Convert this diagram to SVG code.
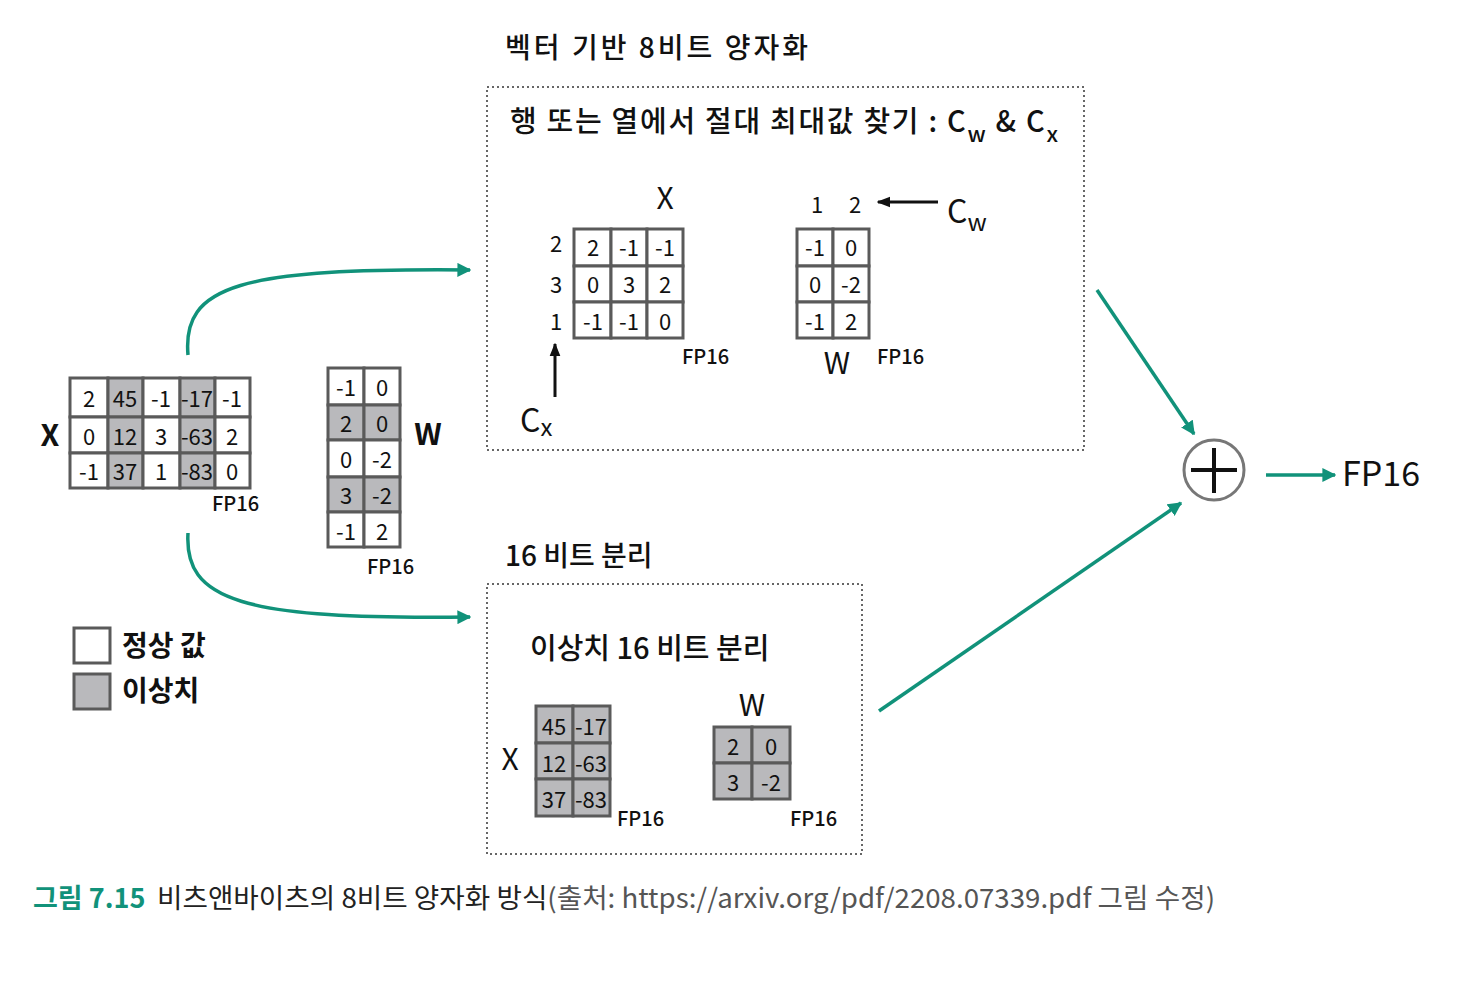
<svg xmlns="http://www.w3.org/2000/svg" width="1480" height="994" viewBox="0 0 1480 994">
<style>
text{font-family:"Noto Sans CJK KR","Noto Sans",sans-serif;fill:#111}
.c{font-size:22px;text-anchor:middle;dominant-baseline:central}
.w{fill:#fff;stroke:#5a5a5a;stroke-width:3}
.g{fill:#b9b9bc;stroke:#5a5a5a;stroke-width:3}
.lbl{font-size:30px;text-anchor:middle;dominant-baseline:central}
.fp{font-size:20px;font-weight:500}
.box{fill:none;stroke:#666;stroke-width:2;stroke-dasharray:2 3}
.ttl{font-size:28px;font-weight:500}
.gr{fill:none;stroke:#11927a;stroke-width:3.5}
.bk{fill:none;stroke:#111;stroke-width:3}
</style>
<defs>
<marker id="ag" viewBox="0 0 10 10" refX="9" refY="5" markerWidth="4" markerHeight="4" orient="auto"><path d="M0,0 L10,5 L0,10 z" fill="#11927a"/></marker>
<marker id="ab" viewBox="0 0 10 10" refX="9" refY="5" markerWidth="4.5" markerHeight="4.5" orient="auto"><path d="M0,1 L10,5 L0,9 z" fill="#111"/></marker>
</defs>
<rect width="1480" height="994" fill="#fff"/>

<g id="x-input">
<text x="50" y="433" class="lbl" font-weight="700">X</text>
<rect x="70" y="378" width="38" height="39" class="w"/><rect x="108" y="378" width="35" height="39" class="g"/><rect x="143" y="378" width="37" height="39" class="w"/><rect x="180" y="378" width="35" height="39" class="g"/><rect x="215" y="378" width="35" height="39" class="w"/>
<rect x="70" y="417" width="38" height="36" class="w"/><rect x="108" y="417" width="35" height="36" class="g"/><rect x="143" y="417" width="37" height="36" class="w"/><rect x="180" y="417" width="35" height="36" class="g"/><rect x="215" y="417" width="35" height="36" class="w"/>
<rect x="70" y="453" width="38" height="35" class="w"/><rect x="108" y="453" width="35" height="35" class="g"/><rect x="143" y="453" width="37" height="35" class="w"/><rect x="180" y="453" width="35" height="35" class="g"/><rect x="215" y="453" width="35" height="35" class="w"/>
<text x="89" y="397" class="c">2</text><text x="125" y="397" class="c">45</text><text x="161" y="397" class="c">-1</text><text x="197" y="397" class="c">-17</text><text x="232" y="397" class="c">-1</text>
<text x="89" y="435" class="c">0</text><text x="125" y="435" class="c">12</text><text x="161" y="435" class="c">3</text><text x="197" y="435" class="c">-63</text><text x="232" y="435" class="c">2</text>
<text x="89" y="470" class="c">-1</text><text x="125" y="470" class="c">37</text><text x="161" y="470" class="c">1</text><text x="197" y="470" class="c">-83</text><text x="232" y="470" class="c">0</text>
<text x="212" y="511" class="fp">FP16</text>
</g>

<g id="w-input">
<rect x="328" y="368" width="36" height="37" class="w"/><rect x="364" y="368" width="36" height="37" class="w"/>
<rect x="328" y="405" width="36" height="35" class="g"/><rect x="364" y="405" width="36" height="35" class="g"/>
<rect x="328" y="440" width="36" height="37" class="w"/><rect x="364" y="440" width="36" height="37" class="w"/>
<rect x="328" y="477" width="36" height="35" class="g"/><rect x="364" y="477" width="36" height="35" class="g"/>
<rect x="328" y="512" width="36" height="35" class="w"/><rect x="364" y="512" width="36" height="35" class="w"/>
<text x="346" y="386" class="c">-1</text><text x="382" y="386" class="c">0</text>
<text x="346" y="422" class="c">2</text><text x="382" y="422" class="c">0</text>
<text x="346" y="458" class="c">0</text><text x="382" y="458" class="c">-2</text>
<text x="346" y="494" class="c">3</text><text x="382" y="494" class="c">-2</text>
<text x="346" y="530" class="c">-1</text><text x="382" y="530" class="c">2</text>
<text x="428" y="432" class="lbl" font-size="34" font-weight="700">W</text>
<text x="367" y="574" class="fp">FP16</text>
</g>

<g id="legend">
<rect x="74" y="628" width="36" height="35" class="w"/>
<rect x="74" y="674" width="36" height="35" class="g"/>
<text x="122" y="656" font-size="28" font-weight="700">정상 값</text>
<text x="122" y="701" font-size="28" font-weight="700">이상치</text>
</g>

<g id="vector-quant">
<text x="505" y="58" class="ttl" textLength="303" lengthAdjust="spacing">벡터 기반 8비트 양자화</text>
<rect x="487" y="87" width="597" height="363" class="box"/>
<text x="510" y="132" font-size="29" font-weight="500" textLength="548" lengthAdjust="spacing">행 또는 열에서 절대 최대값 찾기 : C<tspan font-size="22" dy="10">w</tspan><tspan dy="-10"> &amp; C</tspan><tspan font-size="22" dy="10">x</tspan></text>
<text x="665" y="196" class="lbl" font-size="34">X</text>
<text x="556" y="242" class="c">2</text><text x="556" y="283" class="c">3</text><text x="556" y="320" class="c">1</text>
<rect x="574" y="229" width="37" height="37" class="w"/><rect x="611" y="229" width="36" height="37" class="w"/><rect x="647" y="229" width="36" height="37" class="w"/>
<rect x="574" y="266" width="37" height="36" class="w"/><rect x="611" y="266" width="36" height="36" class="w"/><rect x="647" y="266" width="36" height="36" class="w"/>
<rect x="574" y="302" width="37" height="36" class="w"/><rect x="611" y="302" width="36" height="36" class="w"/><rect x="647" y="302" width="36" height="36" class="w"/>
<text x="593" y="246" class="c">2</text><text x="629" y="246" class="c">-1</text><text x="665" y="246" class="c">-1</text>
<text x="593" y="283" class="c">0</text><text x="629" y="283" class="c">3</text><text x="665" y="283" class="c">2</text>
<text x="593" y="320" class="c">-1</text><text x="629" y="320" class="c">-1</text><text x="665" y="320" class="c">0</text>
<text x="682" y="364" class="fp">FP16</text>
<line x1="555" y1="397" x2="555" y2="344" class="bk" marker-end="url(#ab)"/>
<text x="520" y="432" font-size="32">C<tspan font-size="24" dy="4">x</tspan></text>

<text x="817" y="203" class="c">1</text><text x="855" y="203" class="c">2</text>
<line x1="938" y1="202" x2="878" y2="202" class="bk" marker-end="url(#ab)"/>
<text x="947" y="223" font-size="32">C<tspan font-size="24" dy="8">w</tspan></text>
<rect x="797" y="229" width="36" height="37" class="w"/><rect x="833" y="229" width="36" height="37" class="w"/>
<rect x="797" y="266" width="36" height="36" class="w"/><rect x="833" y="266" width="36" height="36" class="w"/>
<rect x="797" y="302" width="36" height="36" class="w"/><rect x="833" y="302" width="36" height="36" class="w"/>
<text x="815" y="246" class="c">-1</text><text x="851" y="246" class="c">0</text>
<text x="815" y="283" class="c">0</text><text x="851" y="283" class="c">-2</text>
<text x="815" y="320" class="c">-1</text><text x="851" y="320" class="c">2</text>
<text x="837" y="361" class="lbl" font-size="32">W</text>
<text x="877" y="364" class="fp">FP16</text>
</g>

<g id="outlier-16bit">
<text x="505" y="566" class="ttl">16 비트 분리</text>
<rect x="487" y="584" width="375" height="270" class="box"/>
<text x="530" y="659" font-size="29" font-weight="500">이상치 16 비트 분리</text>
<text x="510" y="757" class="lbl" font-size="32">X</text>
<rect x="536" y="706" width="37" height="37" class="g"/><rect x="573" y="706" width="37" height="37" class="g"/>
<rect x="536" y="743" width="37" height="36" class="g"/><rect x="573" y="743" width="37" height="36" class="g"/>
<rect x="536" y="779" width="37" height="37" class="g"/><rect x="573" y="779" width="37" height="37" class="g"/>
<text x="554" y="725" class="c">45</text><text x="591" y="725" class="c">-17</text>
<text x="554" y="762" class="c">12</text><text x="591" y="762" class="c">-63</text>
<text x="554" y="798" class="c">37</text><text x="591" y="798" class="c">-83</text>
<text x="617" y="826" class="fp">FP16</text>
<text x="752" y="703" class="lbl" font-size="32">W</text>
<rect x="714" y="727" width="38" height="36" class="g"/><rect x="752" y="727" width="38" height="36" class="g"/>
<rect x="714" y="763" width="38" height="36" class="g"/><rect x="752" y="763" width="38" height="36" class="g"/>
<text x="733" y="745" class="c">2</text><text x="771" y="745" class="c">0</text>
<text x="733" y="781" class="c">3</text><text x="771" y="781" class="c">-2</text>
<text x="790" y="826" class="fp">FP16</text>
</g>

<g id="add">
<circle cx="1214" cy="470" r="30" fill="#fff" stroke="#777" stroke-width="3"/>
<line x1="1214" y1="448" x2="1214" y2="493" stroke="#111" stroke-width="4"/>
<line x1="1191" y1="470" x2="1237" y2="470" stroke="#111" stroke-width="4"/>
</g>

<g id="output">
<text x="1342" y="486" font-size="34">FP16</text>
</g>

<g id="connectors">
<path d="M188,355 C182,285 240,268 470,270" class="gr" marker-end="url(#ag)"/>
<path d="M188,533 C184,600 240,620 470,617" class="gr" marker-end="url(#ag)"/>
<line x1="1097" y1="290" x2="1194" y2="434" class="gr" marker-end="url(#ag)"/>
<line x1="879" y1="711" x2="1181" y2="503" class="gr" marker-end="url(#ag)"/>
<line x1="1266" y1="475" x2="1335" y2="475" class="gr" marker-end="url(#ag)"/>
</g>

<g id="caption">
<text x="33" y="908" font-size="27" font-weight="700" style="fill:#11927a">그림 7.15</text>
<text x="157" y="908" font-size="27" textLength="1058" lengthAdjust="spacingAndGlyphs"><tspan style="fill:#222">비츠앤바이츠의 8비트 양자화 방식</tspan><tspan style="fill:#555">(출처: https://arxiv.org/pdf/2208.07339.pdf 그림 수정)</tspan></text>
</g>
</svg>
